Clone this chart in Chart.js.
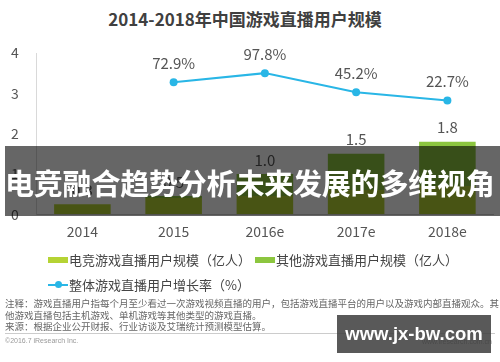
<!DOCTYPE html>
<html>
<head>
<meta charset="utf-8">
<script src="https://cdn.jsdelivr.net/npm/chart.js@4"></script>
<style>
  body { margin: 0; width: 500px; height: 362px; background: #fff; position: relative; overflow: hidden; font-family: "Noto Sans CJK SC", sans-serif; }
  .title { position: absolute; left: 0; top: 7px; width: 490px; text-align: center; font-size: 17px; font-weight: bold; color: #404040; line-height: 24px; }
  .chartBox { position: absolute; left: 0; top: 0; width: 500px; height: 254px; }
  .legend { position: absolute; left: 48px; font-size: 13px; color: #444; line-height: 18px; white-space: nowrap; }
  .box { display: inline-block; width: 20px; height: 6px; vertical-align: middle; margin-right: 1px; position: relative; top: -1px; }
  .lineMark { display: inline-block; width: 20px; height: 2px; background: #29b6e6; vertical-align: middle; position: relative; margin-right: 1px; top: -1px; }
  .lineMark:after { content: ""; position: absolute; left: 7px; top: -3px; width: 7px; height: 7px; border-radius: 50%; background: #29b6e6; }
  .notes { position: absolute; left: 5px; top: 298px; width: 495px; font-size: 9.5px; color: #666; line-height: 11.5px; white-space: nowrap; }
  .sep { position: absolute; left: 5px; top: 333px; width: 490px; height: 1px; background: #ccc; }
  .copy { position: absolute; left: 5px; top: 337px; font-size: 7px; color: #999; font-family: "Liberation Sans", sans-serif; }
  .site { position: absolute; right: 8px; top: 338px; font-size: 7px; color: #999; font-family: "Liberation Sans", sans-serif; }
  .banner { position: absolute; left: 5px; top: 146px; width: 495px; height: 70px; background: rgba(0,0,0,0.6); color: #fff; font-size: 29px; font-weight: bold; line-height: 72px; white-space: nowrap; letter-spacing: -0.2px; }
  .mark { position: absolute; left: 337px; top: 315px; width: 154px; height: 38px; background: rgba(60,60,60,0.85); color: #fff; font-family: "Liberation Sans", sans-serif; font-weight: bold; font-size: 18.5px; line-height: 38px; text-align: center; }
</style>
</head>
<body>
<div class="title">2014-2018年中国游戏直播用户规模</div>
<div class="chartBox"><canvas id="chart1"></canvas></div>

<div class="legend" style="top:251px">
  <span class="box" style="background:#b5d334"></span>电竞游戏直播用户规模（亿人）<span class="box" style="background:#8cc63f;margin-left:4px"></span>其他游戏直播用户规模（亿人）
</div>
<div class="legend" style="top:276px">
  <span class="lineMark"></span>整体游戏直播用户增长率（%）
</div>

<div class="notes">注释：游戏直播用户指每个月至少看过一次游戏视频直播的用户，包括游戏直播平台的用户以及游戏内部直播观众。其<br>他游戏直播包括主机游戏、单机游戏等其他类型的游戏直播。<br>来源：根据企业公开财报、行业访谈及艾瑞统计预测模型估算。</div>
<div class="sep"></div>
<div class="copy">©2016.7 iResearch Inc.</div>
<div class="site">www.iresearch.com.cn</div>

<div class="banner">电竞融合趋势分析未来发展的多维视角</div>
<div class="mark">www.jx-bw.com</div>

<script>
const years = ['2014', '2015', '2016e', '2017e', '2018e']
const esportsUsers = [0.25, 0.4, 0.45, 0.6, 0.7]
const otherUsers = [0, 0.05, 0.55, 0.9, 1.1]
const growthRate = [null, 72.9, 97.8, 45.2, 22.7]

const colors = {
  esports: '#b5d334',
  other: '#8cc63f',
  line: '#29b6e6',
  text: '#555'
}

const valueLabels = {
  id: 'valueLabels',
  afterDatasetsDraw(chart) {
    const ctx = chart.ctx
    ctx.save()
    ctx.fillStyle = colors.text
    ctx.textAlign = 'center'
    ctx.textBaseline = 'middle'
    ctx.font = '15px "Noto Sans CJK SC"'

    const top = chart.getDatasetMeta(1)
    top.data.forEach((bar, i) => {
      const total = esportsUsers[i] + otherUsers[i]
      ctx.fillText(total.toFixed(1), bar.x, bar.y - 14)
    })

    const line = chart.getDatasetMeta(2)
    line.data.forEach((pt, i) => {
      if (growthRate[i] == null) return
      ctx.fillText(growthRate[i].toFixed(1) + '%', pt.x, pt.y - 19)
    })
    ctx.restore()
  }
}

const data = {
  labels: years,
  datasets: [{
    type: 'bar',
    label: '电竞游戏直播用户规模（亿人）',
    data: esportsUsers,
    backgroundColor: colors.esports,
    categoryPercentage: 0.62,
    barPercentage: 1,
    order: 2
  }, {
    type: 'bar',
    label: '其他游戏直播用户规模（亿人）',
    data: otherUsers,
    backgroundColor: colors.other,
    categoryPercentage: 0.62,
    barPercentage: 1,
    order: 2
  }, {
    type: 'line',
    label: '整体游戏直播用户增长率（%）',
    data: growthRate,
    yAxisID: 'y2',
    borderColor: colors.line,
    backgroundColor: colors.line,
    borderWidth: 2,
    pointRadius: 4,
    pointBackgroundColor: colors.line,
    pointBorderWidth: 0,
    tension: 0,
    order: 1
  }]
}

const options = {
  responsive: true,
  maintainAspectRatio: false,
  animation: false,
  layout: { padding: { top: 53, left: -7, right: 7, bottom: 5 } },
  plugins: {
    legend: { display: false },
    tooltip: { enabled: false }
  },
  scales: {
    x: {
      stacked: true,
      grid: { display: false, drawTicks: false },
      border: { color: '#ccc' },
      ticks: { color: colors.text, font: { size: 14, family: 'Noto Sans CJK SC' }, padding: 9 }
    },
    y: {
      stacked: true,
      min: 0,
      max: 4,
      grid: { display: false, drawTicks: false },
      border: { color: '#d9d9d9' },
      ticks: { stepSize: 1, color: colors.text, font: { size: 14, family: 'Noto Sans CJK SC' }, padding: 18 }
    },
    y2: {
      display: false,
      min: -289,
      max: 153
    }
  }
}

new Chart('chart1', {
  data,
  options,
  plugins: [valueLabels]
})
</script>
</body>
</html>
